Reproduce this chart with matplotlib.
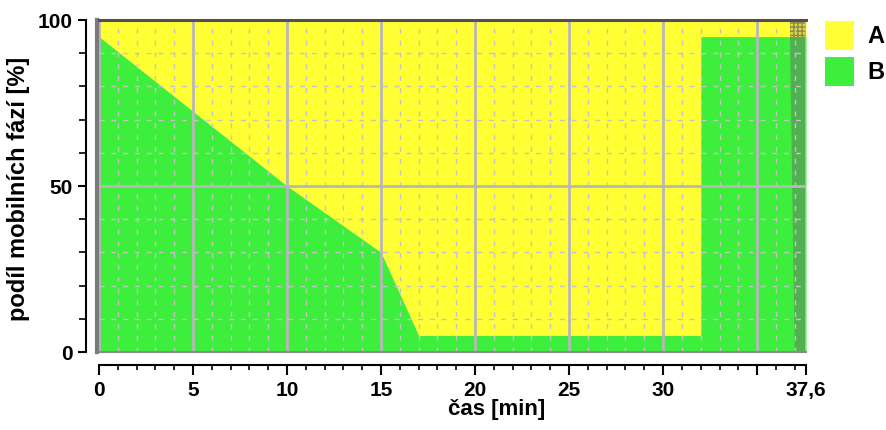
import matplotlib.pyplot as plt
from matplotlib.lines import Line2D
from matplotlib.patches import Patch

# gradient program: % of mobile phase B over time
time_min = [0, 10, 15, 17, 32, 32, 37.6]
phase_b = [95, 50, 30, 5, 5, 95, 95]

# darker band at the end of the run (re-equilibration)
wash_time = [37.0, 36.75, 37.6, 37.6]
wash_level = [0, 95, 95, 0]
wash_top = [36.75, 37.6]

x_major = [0, 5, 10, 15, 20, 25, 30, 35, 37.6]
x_labels = ["0", "5", "10", "15", "20", "25", "30", "", "37,6"]
x_minor = list(range(0, 38))
y_major = [0, 50, 100]
y_minor = list(range(0, 101, 10))

yellow = "#FFFF33"
green = "#3DEE3D"

plt.rcParams["font.family"] = ["Liberation Sans", "DejaVu Sans"]
plt.rcParams["font.weight"] = "bold"

fig = plt.figure(figsize=(8.86, 4.3), dpi=100)
ax = fig.add_axes([99 / 886, 78 / 430, 707 / 886, 332 / 430])

ax.fill_between(time_min, phase_b, 100, color=yellow, lw=0, zorder=0.5)
ax.fill_between(time_min, 0, phase_b, color=green, lw=0, zorder=0.5)
ax.fill(wash_time, wash_level, color="#52B052", lw=0, zorder=0.6)
ax.fill_between(wash_top, 95, 100, facecolor="#E0D840", edgecolor="#8A8A50",
                hatch="++++", lw=0, zorder=0.6)

ax.set_xlim(0, 37.6)
ax.set_ylim(0, 100)
ax.set_axisbelow(False)

ax.set_xticks(x_major)
ax.set_xticklabels(x_labels)
ax.set_xticks(x_minor, minor=True)
ax.set_yticks(y_major)
ax.set_yticks(y_minor, minor=True)

ax.grid(which="major", color="#B8B8B8", lw=2, ls="-")
ax.grid(which="minor", color="#C4C4C4", lw=1, ls=(0, (3.5, 5)))

for s in ["top", "right"]:
    ax.spines[s].set_visible(False)
for s in ["left", "bottom"]:
    ax.spines[s].set_position(("outward", 9.4))
    ax.spines[s].set_linewidth(1.5)

ax.tick_params(axis="y", which="major", length=6, width=1.5, pad=3.5, labelsize=15)
ax.tick_params(axis="y", which="minor", length=5, width=1.2)
ax.tick_params(axis="x", which="major", length=7, width=1.5, pad=4.5, labelsize=15)
ax.tick_params(axis="x", which="minor", length=3.5, width=1.2)

# plot frame
ax.add_line(Line2D([-0.003, -0.003], [0, 1], transform=ax.transAxes,
                   color="#7A7A7A", lw=3, clip_on=False, zorder=5))
ax.add_line(Line2D([0, 1], [1, 1], transform=ax.transAxes,
                   color="#505050", lw=2.2, clip_on=False, zorder=5))
ax.add_line(Line2D([0, 1], [0, 0], transform=ax.transAxes,
                   color="#8A8A8A", lw=1.5, clip_on=False, zorder=5))

ax.set_xlabel("čas [min]", fontsize=16, fontweight="bold")
ax.xaxis.set_label_coords(0.563, -0.142)
ax.set_ylabel("podíl mobilních fází [%]", fontsize=17, fontweight="bold")
ax.yaxis.set_label_coords(-0.097, 0.49)

fig.legend(handles=[Patch(facecolor=yellow, lw=0), Patch(facecolor=green, lw=0)],
           labels=["A", "B"], loc="upper left",
           bbox_to_anchor=(825 / 886, 409 / 430), frameon=False,
           borderpad=0, borderaxespad=0, handlelength=1.23, handleheight=1.5,
           handletextpad=0.55, labelspacing=0.3,
           prop={"size": 17, "weight": "bold"})

fig.savefig("out.png", dpi=100)
